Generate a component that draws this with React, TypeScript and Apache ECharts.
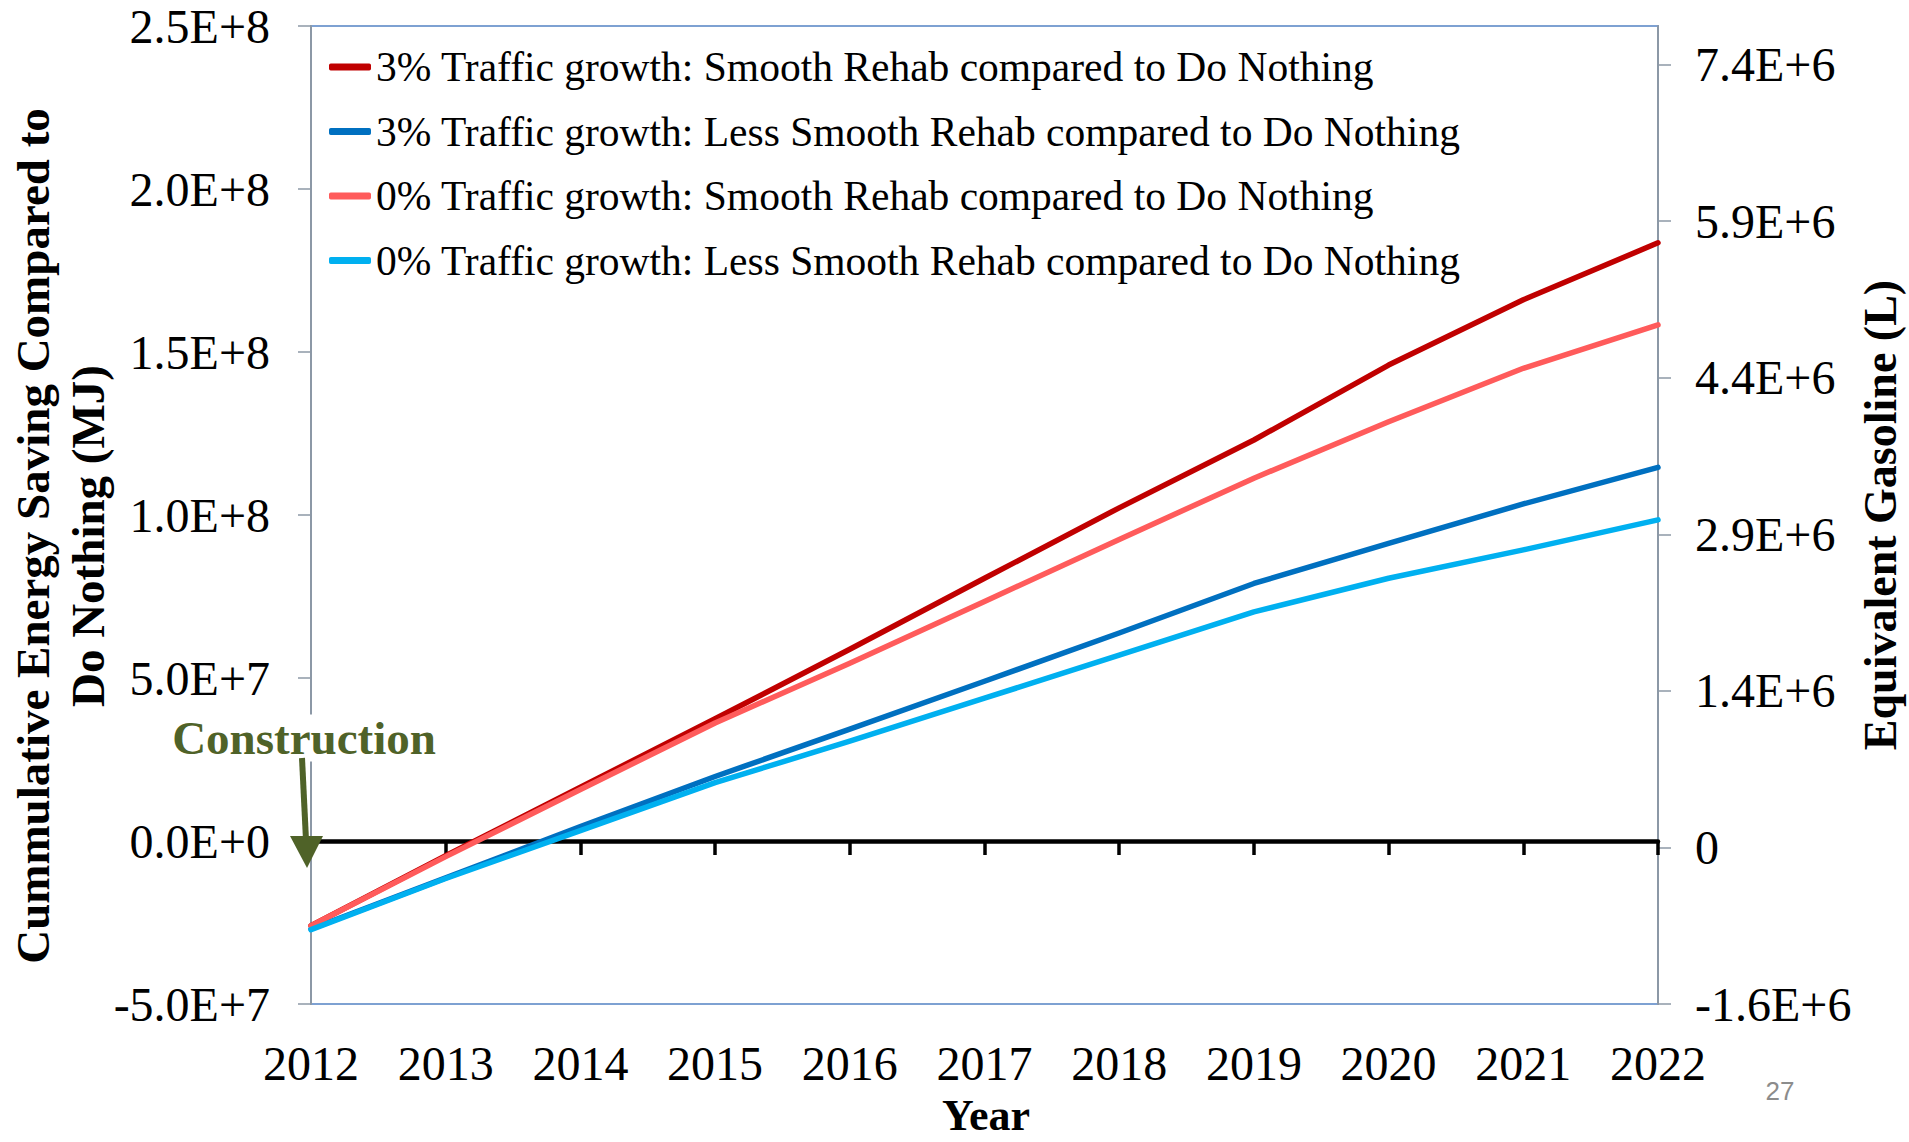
import React, { useEffect, useRef } from 'react';
import * as echarts from 'echarts';

const years = ['2012', '2013', '2014', '2015', '2016', '2017', '2018', '2019', '2020', '2021', '2022'];

const seriesNames = [
  '3% Traffic growth: Smooth Rehab compared to Do Nothing',
  '3% Traffic growth: Less Smooth Rehab compared to Do Nothing',
  '0% Traffic growth: Smooth Rehab compared to Do Nothing',
  '0% Traffic growth: Less Smooth Rehab compared to Do Nothing',
];

const smooth3 = [-2.6e7, -4.5e6, 1.65e7, 3.75e7, 5.88e7, 8.06e7, 1.022e8, 1.23e8, 1.46e8, 1.66e8, 1.835e8];
const lessSmooth3 = [-2.7e7, -1.13e7, 4.4e6, 1.98e7, 3.43e7, 4.9e7, 6.38e7, 7.9e7, 9.13e7, 1.034e8, 1.146e8];
const smooth0 = [-2.6e7, -4.8e6, 1.58e7, 3.62e7, 5.45e7, 7.35e7, 9.25e7, 1.113e8, 1.286e8, 1.45e8, 1.583e8];
const lessSmooth0 = [-2.72e7, -1.15e7, 3.2e6, 1.79e7, 3.06e7, 4.38e7, 5.7e7, 7.03e7, 8.06e7, 8.93e7, 9.85e7];

const seriesColors = ['#C00000', '#0070C0', '#FF5B5B', '#00B0F0'];

const leftMin = -5e7;
const leftMax = 2.5e8;
const leftInterval = 5e7;

// right axis in units of 1E5 litres
const rightMin = -16;
const rightMax = 77.7;
const rightTickValues = [-16, -1, 14, 29, 44, 59, 74];
const rightTickLabels = ['-1.6E+6', '0', '1.4E+6', '2.9E+6', '4.4E+6', '5.9E+6', '7.4E+6'];

const SERIF = "'Liberation Serif', 'Times New Roman', serif";

export default function App() {
  const ref = useRef<HTMLDivElement>(null);

  useEffect(() => {
    if (!ref.current) return;
    const chart = echarts.init(ref.current, undefined, { renderer: 'svg' });
    const allData = [smooth3, lessSmooth3, smooth0, lessSmooth0];

    const option: any = {
      animation: false,
      backgroundColor: '#ffffff',
      grid: {
        left: 311,
        right: 251,
        top: 26,
        bottom: 138,
        show: true,
        borderColor: '#7EA1D2',
        borderWidth: 2,
        containLabel: false,
        outerBoundsMode: 'none',
      },
      legend: {
        orient: 'vertical',
        left: 329,
        top: 45,
        padding: 0,
        itemGap: 20.5,
        itemWidth: 42,
        itemHeight: 7,
        icon: 'roundRect',
        data: seriesNames,
        textStyle: {
          fontFamily: SERIF,
          fontSize: 41.5,
          lineHeight: 44,
          color: '#000000',
        },
      },
      xAxis: [
        {
          type: 'category',
          data: years,
          boundaryGap: false,
          position: 'bottom',
          axisLine: { show: false, onZero: false },
          axisTick: { show: false },
          splitLine: { show: false },
          axisLabel: {
            fontFamily: SERIF,
            fontSize: 48,
            color: '#000000',
            margin: 35,
            interval: 0,
          },
        },
        {
          type: 'category',
          data: years,
          boundaryGap: false,
          position: 'bottom',
          axisLine: {
            show: true,
            onZero: true,
            onZeroAxisIndex: 0,
            lineStyle: { color: '#000000', width: 4.5 },
          },
          axisTick: {
            show: true,
            interval: 0,
            length: 14,
            lineStyle: { color: '#000000', width: 3.5 },
          },
          axisLabel: { show: false },
          splitLine: { show: false },
        },
      ],
      yAxis: [
        {
          type: 'value',
          position: 'left',
          min: leftMin,
          max: leftMax,
          interval: leftInterval,
          axisLine: { show: true, onZero: false, lineStyle: { color: '#8C98A6', width: 2 } },
          axisTick: { show: true, length: 13, lineStyle: { color: '#8C98A6', width: 1.5 } },
          splitLine: { show: false },
          axisLabel: {
            fontFamily: SERIF,
            fontSize: 48,
            color: '#000000',
            margin: 41,
            formatter: (v: number) => v.toExponential(1).toUpperCase(),
          },
        },
        {
          type: 'value',
          position: 'right',
          min: rightMin,
          max: rightMax,
          axisLine: { show: true, onZero: false, lineStyle: { color: '#8C98A6', width: 2 } },
          axisTick: {
            show: true,
            length: 13,
            customValues: rightTickValues,
            lineStyle: { color: '#8C98A6', width: 1.5 },
          },
          splitLine: { show: false },
          axisLabel: {
            fontFamily: SERIF,
            fontSize: 48,
            color: '#000000',
            margin: 37,
            customValues: rightTickValues,
            formatter: (v: number) => {
              const idx = rightTickValues.indexOf(Math.round(v));
              return idx >= 0 ? rightTickLabels[idx] : '';
            },
          },
        },
      ],
      series: seriesNames.map((name, i) => ({
        name,
        type: 'line',
        xAxisIndex: 0,
        yAxisIndex: 0,
        data: allData[i],
        showSymbol: false,
        symbol: 'none',
        smooth: false,
        color: seriesColors[i],
        lineStyle: { color: seriesColors[i], width: 5.5, cap: 'round', join: 'round' },
        z: 3 + i,
      })),
      graphic: [
        {
          type: 'text',
          x: 33,
          y: 536,
          rotation: Math.PI / 2,
          style: {
            text: 'Cummulative Energy Saving Compared to',
            fontFamily: SERIF,
            fontWeight: 'bold',
            fontSize: 47,
            fill: '#000000',
            align: 'center',
            verticalAlign: 'middle',
          },
        },
        {
          type: 'text',
          x: 88,
          y: 536,
          rotation: Math.PI / 2,
          style: {
            text: 'Do Nothing (MJ)',
            fontFamily: SERIF,
            fontWeight: 'bold',
            fontSize: 47,
            fill: '#000000',
            align: 'center',
            verticalAlign: 'middle',
          },
        },
        {
          type: 'text',
          x: 1880,
          y: 515,
          rotation: Math.PI / 2,
          style: {
            text: 'Equivalent Gasoline (L)',
            fontFamily: SERIF,
            fontWeight: 'bold',
            fontSize: 46,
            fill: '#000000',
            align: 'center',
            verticalAlign: 'middle',
          },
        },
        {
          type: 'text',
          x: 986,
          y: 1115,
          style: {
            text: 'Year',
            fontFamily: SERIF,
            fontWeight: 'bold',
            fontSize: 44,
            fill: '#000000',
            align: 'center',
            verticalAlign: 'middle',
          },
        },
        {
          type: 'text',
          x: 304,
          y: 738,
          z: 100,
          style: {
            text: 'Construction',
            fontFamily: SERIF,
            fontWeight: 'bold',
            fontSize: 47,
            fill: '#4F6228',
            align: 'center',
            verticalAlign: 'middle',
            backgroundColor: '#ffffff',
            padding: [0, 2, 0, 2],
          },
        },
        {
          type: 'polyline',
          z: 100,
          shape: { points: [[302, 758], [306, 840]] },
          style: { stroke: '#4F6228', lineWidth: 6, fill: null },
        },
        {
          type: 'polygon',
          z: 100,
          shape: { points: [[290, 836], [323, 836], [307, 868]] },
          style: { fill: '#4F6228' },
        },
        {
          type: 'text',
          x: 1780,
          y: 1091,
          style: {
            text: '27',
            fontFamily: "'Liberation Sans', Arial, sans-serif",
            fontSize: 26,
            fill: '#8C8C8C',
            align: 'center',
            verticalAlign: 'middle',
          },
        },
      ],
    };

    chart.setOption(option);
    return () => chart.dispose();
  }, []);

  return (
    <div
      ref={ref}
      style={{ position: 'fixed', left: 0, top: 0, width: 1909, height: 1142, background: '#ffffff' }}
    />
  );
}
